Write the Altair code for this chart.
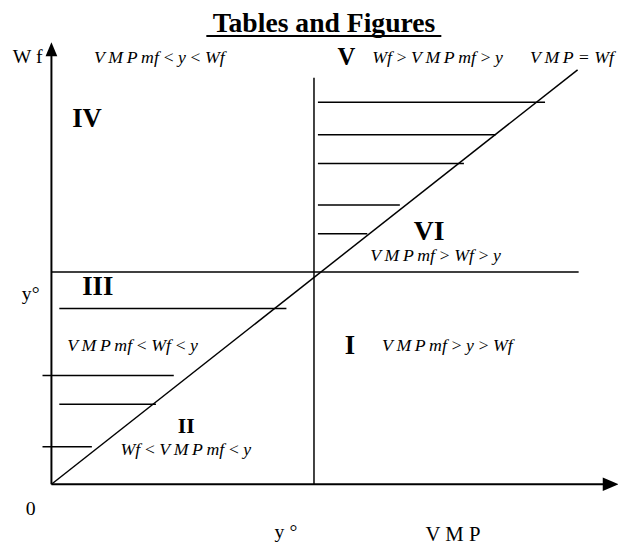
import altair as alt
import pandas as pd

# ---- coordinate system: VMP on x, Wf on y, y° = 10 on both axes ----
PX_X, PX_Y = 26.6, 21.5      # pixels per unit (layout)
ORIG_X, ORIG_Y = 44, 479     # origin inside the plot area (layout)
W, H = 618, 536

# ---- line segments (data units) ----
seg_x  = [0, 0, 10, 0, 0, 10.15, 10.15, 10.15, 10.15, 10.15, 0.30, -0.34, 0.30, -0.34, 5.90]
seg_y  = [0, 0, 0, 10, 0, 18.0, 16.47, 15.12, 13.16, 11.81, 8.28, 5.12, 3.77, 1.77, 21.12]
seg_x2 = [0, 21.1, 10, 20.08, 20.04, 18.80, 16.92, 15.71, 13.27, 12.03, 8.95, 4.66, 3.98, 1.54, 14.85]
seg_y2 = [20.3, 0, 19.16, 10, 19.53, 18.0, 16.47, 15.12, 13.16, 11.81, 8.28, 5.12, 3.77, 1.77, 21.12]
seg_w  = [2, 2, 1.5, 1.5, 1.5, 1.5, 1.5, 1.5, 1.5, 1.5, 1.5, 1.5, 1.5, 1.5, 2]

# ---- arrow heads ----
arrow_up_x, arrow_up_y = [0], [20.5]
arrow_rt_x, arrow_rt_y = [21.3], [0]

# ---- texts ----
title_txt = ["Tables and Figures"]
title_x, title_y = [10.38], [21.30]

num_txt = ["IV", "V", "VI", "III", "I", "II"]
num_x   = [0.79, 10.90, 13.80, 1.17, 11.17, 4.81]
num_y   = [16.84, 19.77, 11.49, 8.93, 6.14, 2.42]
num_fs  = [27, 25, 28, 27, 27, 22]

TS = "\u2009"
def spaced(parts):
    return TS.join(parts)

ital_txt = [
    spaced(["V", "M", "P", "mf", "<", "y", "<", "Wf"]),
    spaced(["Wf", ">", "V", "M", "P", "mf", ">", "y"]),
    "V\u2009M\u2009P = Wf",
    spaced(["V", "M", "P", "mf", ">", "Wf", ">", "y"]),
    spaced(["V", "M", "P", "mf", ">", "y", ">", "Wf"]),
    spaced(["V", "M", "P", "mf", "<", "Wf", "<", "y"]),
    spaced(["Wf", "<", "V", "M", "P", "mf", "<", "y"]),
]
ital_x = [1.62, 12.22, 18.23, 12.14, 12.59, 0.60, 2.63]
ital_y = [19.86, 19.86, 19.86, 10.51, 6.28, 6.28, 1.40]

reg_txt = ["W f", "y°", "0", "y °", "V M P"]
reg_x   = [-1.47, -1.13, -0.98, 8.50, 14.25]
reg_y   = [19.86, 8.70, -1.44, -2.51, -2.65]
reg_fs  = [20, 20, 20, 20, 21]

FONT = "Liberation Serif"

xs = alt.Scale(domain=[-ORIG_X / PX_X, (W - ORIG_X) / PX_X], nice=False, zero=False)
ys = alt.Scale(domain=[-(H - ORIG_Y) / PX_Y, ORIG_Y / PX_Y], nice=False, zero=False)

segs = pd.DataFrame({"x": seg_x, "y": seg_y, "x2": seg_x2, "y2": seg_y2, "w": seg_w})
rules = alt.Chart(segs).mark_rule(color="black").encode(
    x=alt.X("x:Q", scale=xs, axis=None),
    y=alt.Y("y:Q", scale=ys, axis=None),
    x2="x2:Q", y2="y2:Q",
    strokeWidth=alt.StrokeWidth("w:Q", scale=None),
)

up = alt.Chart(pd.DataFrame({"x": arrow_up_x, "y": arrow_up_y})).mark_point(
    shape="M0,-1L0.85,1L-0.85,1Z", filled=True, size=196, color="black", opacity=1
).encode(x=alt.X("x:Q", scale=xs, axis=None), y=alt.Y("y:Q", scale=ys, axis=None))

rt = alt.Chart(pd.DataFrame({"x": arrow_rt_x, "y": arrow_rt_y})).mark_point(
    shape="M1,0L-1,-0.85L-1,0.85Z", filled=True, size=256, color="black", opacity=1
).encode(x=alt.X("x:Q", scale=xs, axis=None), y=alt.Y("y:Q", scale=ys, axis=None))

title = alt.Chart(pd.DataFrame({"t": title_txt, "x": title_x, "y": title_y})).mark_text(
    font=FONT, fontSize=28, fontWeight="bold", align="center", baseline="alphabetic", color="black"
).encode(x=alt.X("x:Q", scale=xs, axis=None), y=alt.Y("y:Q", scale=ys, axis=None), text="t:N")

nums = alt.Chart(pd.DataFrame({"t": num_txt, "x": num_x, "y": num_y, "fs": num_fs})).mark_text(
    font=FONT, fontWeight="bold", align="left", baseline="alphabetic", color="black"
).encode(x=alt.X("x:Q", scale=xs, axis=None), y=alt.Y("y:Q", scale=ys, axis=None),
         text="t:N", size=alt.Size("fs:Q", scale=None))

ital = alt.Chart(pd.DataFrame({"t": ital_txt, "x": ital_x, "y": ital_y})).mark_text(
    font=FONT, fontSize=18, fontStyle="italic", align="left", baseline="alphabetic", color="black"
).encode(x=alt.X("x:Q", scale=xs, axis=None), y=alt.Y("y:Q", scale=ys, axis=None), text="t:N")

reg = alt.Chart(pd.DataFrame({"t": reg_txt, "x": reg_x, "y": reg_y, "fs": reg_fs})).mark_text(
    font=FONT, align="left", baseline="alphabetic", color="black"
).encode(x=alt.X("x:Q", scale=xs, axis=None), y=alt.Y("y:Q", scale=ys, axis=None),
         text="t:N", size=alt.Size("fs:Q", scale=None))

chart = alt.layer(rules, up, rt, title, nums, ital, reg).properties(
    width=W, height=H, autosize=alt.AutoSizeParams(type="none"), padding=0, background="white"
).configure_view(stroke=None, clip=False)

chart.save("out.html", embed_options={"renderer": "svg", "actions": False})
